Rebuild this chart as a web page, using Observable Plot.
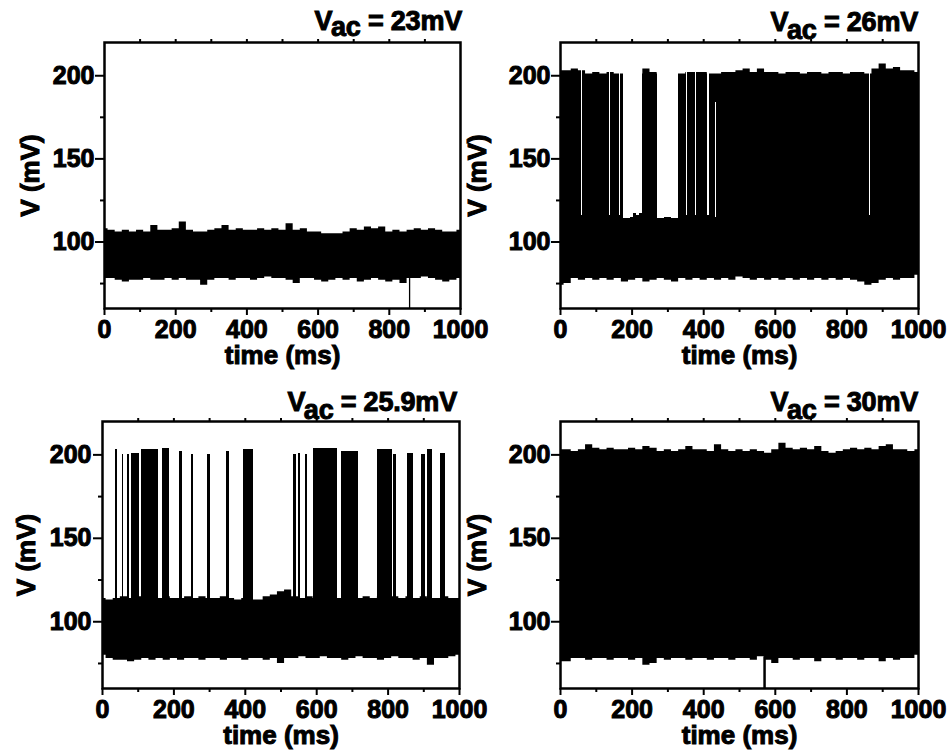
<!DOCTYPE html>
<html><head><meta charset="utf-8">
<script src="https://cdn.jsdelivr.net/npm/d3@7"></script>
<script src="https://cdn.jsdelivr.net/npm/@observablehq/plot@0.6"></script>
<style>
html,body{margin:0;padding:0;background:#fff;}
#root{position:relative;width:951px;height:751px;overflow:hidden;font-family:'Liberation Sans',Arial,sans-serif;}
.panel{position:absolute;}
.panel svg{overflow:visible !important;background:transparent !important;max-width:none !important;}
.panel svg text{stroke:#000;stroke-width:1px;font-weight:bold;}
.panel g[aria-label$="tick label"] text{font-size:25px !important;}
.title{position:absolute;font-weight:bold;font-size:27px !important;line-height:27px;white-space:nowrap;-webkit-text-stroke:1px #000;color:#000;letter-spacing:-0.2px;}
.title .sub{position:relative;}
</style></head>
<body><div id="root"></div>
<script>
// sampling grid of the envelopes (ms)
const step = 20;

// Vac = 23 mV : noise band envelope (mV), t = 0..1000 every 20 ms
const p1Hi = [108,107,106,107,106,107,106,110,107,107,
              108,112,107,106,106,107,108,110,107,108,
              107,107,108,107,108,107,111,107,108,106,
              106,105,105,105,106,108,107,109,108,109,
              106,107,106,107,108,107,108,107,106,106,107];
const p1Lo = [78,78,77,76,77,77,78,77,77,78,
              77,78,77,77,74,77,78,78,77,78,
              78,77,78,79,78,78,77,75,78,78,
              77,76,77,78,77,78,76,77,78,77,
              76,77,75,78,78,79,78,77,76,77,78];
const p1Drops = [[857, 78]];

// Vac = 26 mV
const p2Hi = [203,203,204,203,201,202,201,202,201,201,
              201,201,204,202,201,201,201,201,202,202,
              202,201,201,202,202,203,204,202,204,202,
              202,201,202,202,201,202,202,201,202,202,
              201,202,202,201,204,207,204,205,203,203,202];
const p2Lo = [74,75,78,77,78,77,78,77,78,76,
              77,78,76,77,78,77,76,78,77,78,
              77,78,77,78,77,79,78,77,78,77,
              78,77,78,77,78,77,78,77,78,77,
              78,77,76,74,75,77,78,77,78,78,80];
// quiet stretches: [t1, t2, band top, upper limit]
const p2Gaps = [[59,62,116,215],[137,140,116,215],[165,168,116,215],
                [176,195,114,215],[195,205,115,215],[205,212,117,215],[212,220,116,215],[220,228,117,215],
                [272,290,114,215],[290,310,115,215],[310,329,114,215],
                [351,354,116,215],[378,381,116,215],[412,415,116,215],[432,435,115,184],
                [863,866,116,215]];

// Vac = 25.9 mV
const p3Hi = [114,113,114,115,114,115,116,115,114,115,
              114,114,115,114,115,114,114,115,114,113,
              114,113,113,115,116,118,119,115,114,115,
              114,115,114,114,115,114,114,115,114,115,
              114,115,114,115,114,115,114,114,115,114,114];
const p3Lo = [80,78,77,77,76,77,78,77,78,77,
              78,77,78,78,77,78,78,77,78,78,
              77,78,78,77,78,75,78,78,79,78,
              78,79,78,78,77,78,79,78,78,77,
              78,79,78,78,77,78,74,78,78,79,80];
// spiking bursts: [t1, t2, peak]
const p3Bursts = [[36,41,203],[55,60,200],[71,76,200],[80,105,201],[108,158,203],
                  [168,188,204],[215,223,202],[249,256,200],[295,303,200],[346,355,202],
                  [396,422,203],[536,543,200],[550,556,201],[569,575,200],[590,657,204],
                  [669,718,202],[769,811,203],[814,824,200],[855,872,201],[894,905,200],
                  [910,924,203],[947,961,201]];

// Vac = 30 mV
const p4Hi = [203,203,202,203,206,204,203,204,203,203,
              204,203,205,204,202,203,202,203,205,203,
              203,202,206,203,202,203,202,203,202,201,
              203,207,204,203,204,203,205,202,201,202,
              203,204,203,204,203,205,206,203,203,202,203];
const p4Lo = [76,76,78,78,77,78,78,77,78,78,
              77,78,74,75,78,77,78,78,77,78,
              78,77,78,78,77,78,78,77,79,77,
              75,78,78,77,78,78,76,78,78,77,
              78,78,77,78,78,76,78,77,78,78,80];
const p4Drops = [[570, 79]];

const titles = ["23mV", "26mV", "25.9mV", "30mV"];
const xMajor = [0,200,400,600,800,1000];
const xMinor = [100,300,500,700,900];
const yMajor = [100,150,200];
const yMinor = [75,125,175];

const FONT = "'Liberation Sans', Arial, sans-serif";
const burstBase = 100;
const vFloor = 60;

function drawPanel(cfg) {
  const band = cfg.hi.map((h, i) => ({t: i * step, lo: cfg.lo[i], hi: h}));
  const marks = [
    Plot.areaY(band, {x: "t", y1: "lo", y2: "hi", curve: "step", fill: "black"})
  ];
  if (cfg.bursts) marks.push(Plot.rect(cfg.bursts, {x1: d => d[0], x2: d => d[1], y1: () => burstBase, y2: d => d[2], fill: "black", shapeRendering: "crispEdges"}));
  if (cfg.gaps) marks.push(Plot.rect(cfg.gaps, {x1: d => d[0], x2: d => d[1], y1: d => d[2], y2: d => d[3], fill: "white", shapeRendering: "crispEdges"}));
  if (cfg.drops) marks.push(Plot.ruleX(cfg.drops, {x: d => d[0], y1: () => vFloor, y2: d => d[1], strokeWidth: cfg.dropWidth, stroke: "black"}));
  marks.push(
    Plot.frame({strokeWidth: 2.5, stroke: "black"}),
    Plot.axisX({ticks: xMajor, tickSize: 7, tickPadding: 5, strokeWidth: 2, fontSize: 25, tickFormat: d => String(d), label: null}),
    Plot.axisX({ticks: xMinor, tickSize: 4, strokeWidth: 2, tickFormat: () => "", label: null}),
    Plot.axisX({anchor: "top", ticks: xMinor.concat([200,400,600,800]), tickSize: 4, strokeWidth: 2, tickFormat: () => "", label: null}),
    Plot.axisY({ticks: yMajor, tickSize: 9, tickPadding: cfg.yPad, strokeWidth: 2, fontSize: 25, tickFormat: d => String(d), label: null}),
    Plot.axisY({ticks: yMinor, tickSize: 4, strokeWidth: 2, tickFormat: () => "", label: null}),
    Plot.text(["time (ms)"], {text: d => d, frameAnchor: "bottom", lineAnchor: "middle", textAnchor: "middle", dy: 47, fontSize: 26, fontWeight: "bold"}),
    Plot.text(["V (mV)"], {text: d => d, frameAnchor: "left", lineAnchor: "middle", textAnchor: "middle", dx: cfg.ylabDx, rotate: -90, fontSize: 26, fontWeight: "bold"})
  );
  const svg = Plot.plot({
    width: cfg.width, height: cfg.height,
    marginTop: cfg.mt, marginRight: cfg.mr, marginBottom: cfg.mb, marginLeft: cfg.ml,
    x: {domain: [0, 1000]},
    y: {domain: [60, 220]},
    style: {fontFamily: FONT, fontWeight: "bold", fontSize: "25px", color: "black", background: "transparent", overflow: "visible"},
    marks
  });
  const div = document.createElement("div");
  div.className = "panel";
  div.style.left = cfg.left + "px";
  div.style.top = cfg.top + "px";
  div.style.width = cfg.width + "px";
  div.style.height = cfg.height + "px";
  div.appendChild(svg);
  document.getElementById("root").appendChild(div);

  const t = document.createElement("div");
  t.className = "title";
  t.style.right = cfg.titleRight + "px";
  t.style.top = cfg.titleTop + "px";
  t.innerHTML = 'V<span class="sub" style="top:' + cfg.subDrop + 'px">ac</span> = ' + cfg.title;
  document.getElementById("root").appendChild(t);
}

drawPanel({hi: p1Hi, lo: p1Lo, drops: p1Drops, dropWidth: 1.3, title: titles[0],
  left: 0, top: 0, width: 475, height: 375, mt: 42, mr: 15, mb: 67, ml: 104, yPad: 1, ylabDx: -74,
  titleRight: 489, titleTop: 8, subDrop: 6});
drawPanel({hi: p2Hi, lo: p2Lo, gaps: p2Gaps, title: titles[1],
  left: 440, top: 0, width: 511, height: 375, mt: 42, mr: 33, mb: 67, ml: 120, yPad: 1, ylabDx: -83,
  titleRight: 33, titleTop: 9, subDrop: 8});
drawPanel({hi: p3Hi, lo: p3Lo, bursts: p3Bursts, title: titles[2],
  left: 0, top: 378, width: 475, height: 373, mt: 43, mr: 16, mb: 63, ml: 102, yPad: 2, ylabDx: -76,
  titleRight: 494, titleTop: 389, subDrop: 8});
drawPanel({hi: p4Hi, lo: p4Lo, drops: p4Drops, dropWidth: 2.5, title: titles[3],
  left: 440, top: 378, width: 511, height: 373, mt: 43, mr: 33, mb: 63, ml: 120, yPad: 1, ylabDx: -83,
  titleRight: 33, titleTop: 389, subDrop: 8});
</script>
</body></html>
